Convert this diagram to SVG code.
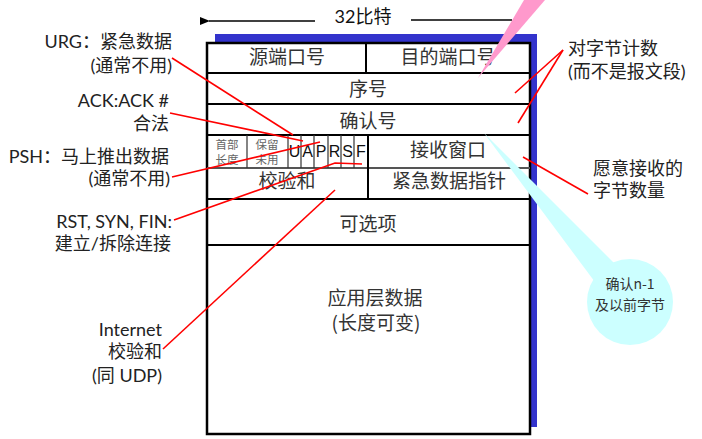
<svg xmlns="http://www.w3.org/2000/svg" width="702" height="439" viewBox="0 0 702 439">
<style>
.cell{font-family:"Noto Sans CJK SC","Noto Sans",sans-serif;font-size:19px;fill:#333;text-anchor:middle}
.small{font-family:"Noto Sans CJK SC",sans-serif;font-size:11.5px;fill:#666;text-anchor:middle}
.flag{font-family:"Liberation Sans","Noto Sans",sans-serif;font-size:16px;fill:#111;text-anchor:middle}
.lab{font-family:Lato,"Noto Sans CJK SC",sans-serif;font-size:18px;fill:#222;text-anchor:end}
.labl{font-family:Lato,"Noto Sans CJK SC",sans-serif;font-size:18px;fill:#222}
.sep{stroke:#000;stroke-width:2;fill:none}
.thin{stroke:#333;stroke-width:1.2;fill:none}
.red{stroke:#f00;stroke-width:1.6;fill:none}
</style>
<defs>
<marker id="ah" viewBox="0 0 10 10" refX="1" refY="5" markerWidth="7" markerHeight="7" orient="auto-start-reverse">
<path d="M0,5 L10,1 L10,9 Z" fill="#000"/>
</marker>
</defs>
<rect width="702" height="439" fill="#fff"/>

<g id="width-label">
<line x1="209" y1="21" x2="315" y2="21" stroke="#000" stroke-width="1.5" marker-start="url(#ah)"/>
<line x1="411" y1="20" x2="512" y2="20" stroke="#000" stroke-width="1.5"/>
<text x="363" y="23" font-family="Lato,'Noto Sans CJK SC',sans-serif" font-size="18" fill="#111" text-anchor="middle">32比特</text>
</g>

<g id="header">
<rect x="215" y="34" width="322" height="393" fill="#3333cc"/>
<rect x="207" y="43" width="323" height="391" fill="#fff" stroke="#000" stroke-width="2.5"/>
<line class="sep" x1="207" y1="73" x2="530" y2="73"/>
<line class="sep" x1="207" y1="104" x2="530" y2="104"/>
<line class="sep" x1="207" y1="135" x2="530" y2="135"/>
<line x1="207" y1="168" x2="530" y2="168" stroke="#555" stroke-width="2"/>
<line class="sep" x1="207" y1="199" x2="530" y2="199"/>
<line class="sep" x1="207" y1="245" x2="530" y2="245"/>
<line class="sep" x1="366" y1="43" x2="366" y2="73"/>
<line class="sep" x1="368" y1="135" x2="368" y2="199"/>
<line class="thin" x1="247" y1="135" x2="247" y2="168"/>
<line class="thin" x1="288" y1="135" x2="288" y2="168"/>
<line class="thin" x1="301" y1="135" x2="301" y2="168"/>
<line class="thin" x1="314" y1="135" x2="314" y2="168"/>
<line class="thin" x1="328" y1="135" x2="328" y2="168"/>
<line class="thin" x1="341" y1="135" x2="341" y2="168"/>
<line class="thin" x1="354" y1="135" x2="354" y2="168"/>
</g>

<g id="fields">
<text class="cell" x="287" y="64">源端口号</text>
<text class="cell" x="448" y="64">目的端口号</text>
<text class="cell" x="368" y="96">序号</text>
<text class="cell" x="368" y="128">确认号</text>
<text class="small" x="227" y="149">首部</text>
<text class="small" x="227" y="164">长度</text>
<text class="small" x="267" y="149">保留</text>
<text class="small" x="267" y="164">未用</text>
<text class="flag" x="294.5" y="157">U</text>
<text class="flag" x="307.5" y="157">A</text>
<text class="flag" x="321" y="157">P</text>
<text class="flag" x="334.5" y="157">R</text>
<text class="flag" x="347.5" y="157">S</text>
<text class="flag" x="361" y="157">F</text>
<text class="cell" x="448" y="157">接收窗口</text>
<text class="cell" x="287" y="188">校验和</text>
<text class="cell" x="449" y="188">紧急数据指针</text>
<text class="cell" x="368" y="231">可选项</text>
<text class="cell" x="375" y="305">应用层数据</text>
<text class="cell" x="376" y="330">(长度可变)</text>
</g>

<g id="callout-pink">
<polygon points="524,0 545,0 478,78" fill="#ff99cc"/>
</g>

<g id="callout-ack">
<polygon points="484,133 642,291 618,313" fill="#ccffff"/>
<circle cx="630" cy="302" r="43" fill="#ccffff"/>
<text x="630" y="289" font-family="'Noto Sans CJK SC',sans-serif" font-size="14" fill="#333" text-anchor="middle">确认n-1</text>
<text x="630" y="310" font-family="'Noto Sans CJK SC',sans-serif" font-size="14" fill="#333" text-anchor="middle">及以前字节</text>
</g>

<g id="labels">
<text class="lab" x="172" y="48">URG：紧急数据</text>
<text class="lab" x="172" y="72">(通常不用)</text>
<text class="lab" x="169" y="107">ACK:ACK #</text>
<text class="lab" x="169" y="130">合法</text>
<text class="lab" x="169" y="163">PSH：马上推出数据</text>
<text class="lab" x="170" y="185">(通常不用)</text>
<text class="lab" x="172" y="228">RST, SYN, FIN:</text>
<text class="lab" x="171" y="250">建立/拆除连接</text>
<text class="lab" x="162" y="336">Internet</text>
<text class="lab" x="162" y="358">校验和</text>
<text class="lab" x="162" y="382">(同 UDP)</text>
<text class="labl" x="568" y="55">对字节计数</text>
<text class="labl" x="568" y="78">(而不是报文段)</text>
<text class="labl" x="593" y="175">愿意接收的</text>
<text class="labl" x="593" y="197">字节数量</text>
</g>

<g id="connectors">
<line class="red" x1="172" y1="58" x2="293" y2="135"/>
<line class="red" x1="170" y1="113" x2="303" y2="141"/>
<line class="red" x1="172" y1="177" x2="320" y2="142"/>
<polyline class="red" points="174,220 335,163 362,164"/>
<line class="red" x1="163" y1="349" x2="335" y2="190"/>
<line class="red" x1="563" y1="50" x2="515" y2="93"/>
<line class="red" x1="563" y1="50" x2="518" y2="123"/>
<line class="red" x1="523" y1="157" x2="588" y2="194"/>
</g>
</svg>
